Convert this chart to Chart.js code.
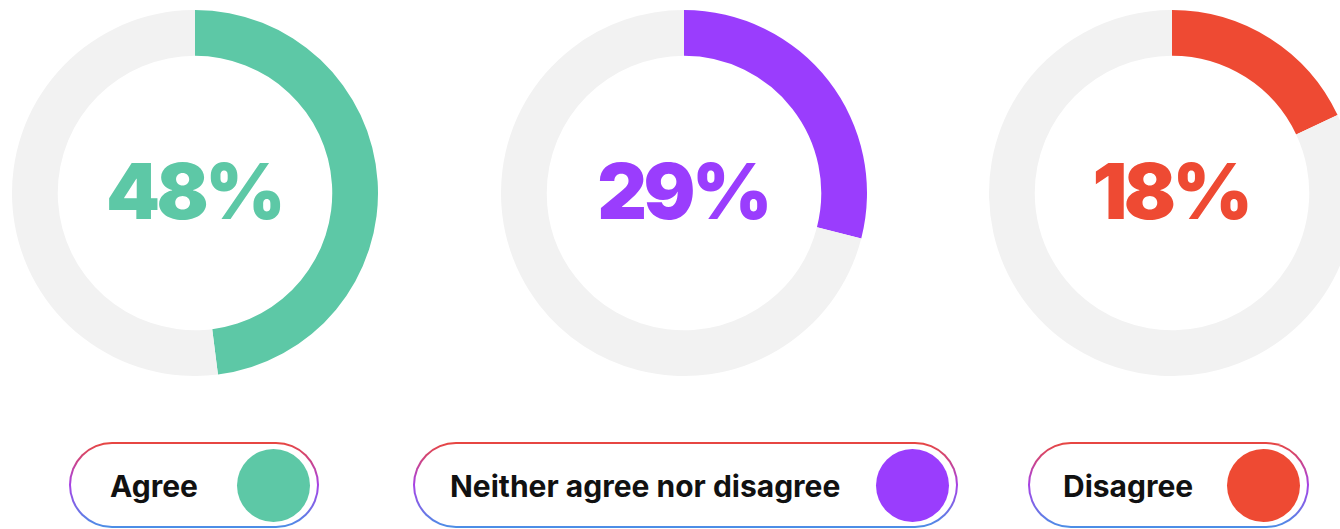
<!DOCTYPE html>
<html>
<head>
<meta charset="utf-8">
<script src="https://cdn.jsdelivr.net/npm/chart.js@4"></script>
<style>
    html, body {
        margin: 0;
        padding: 0;
        width: 1340px;
        height: 529px;
        overflow: hidden;
        background: #fff;
        font-family: Inter, 'Noto Sans', sans-serif;
    }
    .ring {
        position: absolute;
        top: 10px;
        width: 366px;
        height: 366px;
    }
    .pill {
        position: absolute;
        top: 442px;
        height: 86px;
        box-sizing: border-box;
        border: 2px solid transparent;
        border-radius: 43px;
        background:
            linear-gradient(#fff, #fff) padding-box,
            linear-gradient(to bottom, #e8463e 0%, #a742e6 50%, #4a8fe6 100%) border-box;
    }
    .pill span {
        position: absolute;
        top: 50%;
        transform: translateY(-46%);
        font-weight: 700;
        font-size: 30px;
        color: #111;
        white-space: nowrap;
    }
    .pill i {
        position: absolute;
        top: 50%;
        width: 73px;
        height: 73px;
        margin-top: -36px;
        border-radius: 50%;
    }
</style>
</head>
<body>

<script>
// Survey answers and their share of respondents
const categories = ['Agree', 'Neither agree nor disagree', 'Disagree'];
const shares = [48, 29, 18];

const seriesColors = ['#5dc8a6', '#9a3dfd', '#ee4a33'];
const trackColor = '#f2f2f2';

// Layout of each ring / legend pill (left edge, pill width, text indent)
const ringLeft = [12, 501, 989];
const pillBox = [
    { left: 69, width: 250, text: 39 },
    { left: 413, width: 545, text: 35 },
    { left: 1028, width: 281, text: 33 }
];

// Percentage drawn in the hole of each ring
const centerLabel = {
    id: 'centerLabel',
    afterDraw(chart, args, opts) {
        const meta = chart.getDatasetMeta(0).data[0];
        const ctx = chart.ctx;
        ctx.save();
        ctx.font = '900 77px Inter';
        ctx.letterSpacing = '-3.5px';
        ctx.fillStyle = opts.color;
        ctx.textAlign = 'center';
        ctx.textBaseline = 'middle';
        ctx.fillText(chart.data.datasets[0].data[0] + '%', meta.x - 1, meta.y + 3);
        ctx.restore();
    }
};

categories.forEach((name, i) => {
    const canvas = document.createElement('canvas');
    const wrap = document.createElement('div');
    wrap.className = 'ring';
    wrap.style.left = ringLeft[i] + 'px';
    wrap.appendChild(canvas);
    document.body.appendChild(wrap);

    new Chart(canvas, {
        type: 'doughnut',
        data: {
            labels: [name, ''],
            datasets: [{
                data: [shares[i], 100 - shares[i]],
                backgroundColor: [seriesColors[i], trackColor],
                borderWidth: 0
            }]
        },
        options: {
            responsive: true,
            maintainAspectRatio: false,
            animation: false,
            cutout: '75%',
            plugins: {
                legend: { display: false },
                tooltip: { enabled: false },
                centerLabel: { color: seriesColors[i] }
            }
        },
        plugins: [centerLabel]
    });

    // Legend pill
    const pill = document.createElement('div');
    pill.className = 'pill';
    pill.style.left = pillBox[i].left + 'px';
    pill.style.width = pillBox[i].width + 'px';
    const label = document.createElement('span');
    label.textContent = name;
    label.style.left = pillBox[i].text + 'px';
    const dot = document.createElement('i');
    dot.style.right = '7px';
    dot.style.background = seriesColors[i];
    pill.appendChild(label);
    pill.appendChild(dot);
    document.body.appendChild(pill);
});
</script>
</body>
</html>
